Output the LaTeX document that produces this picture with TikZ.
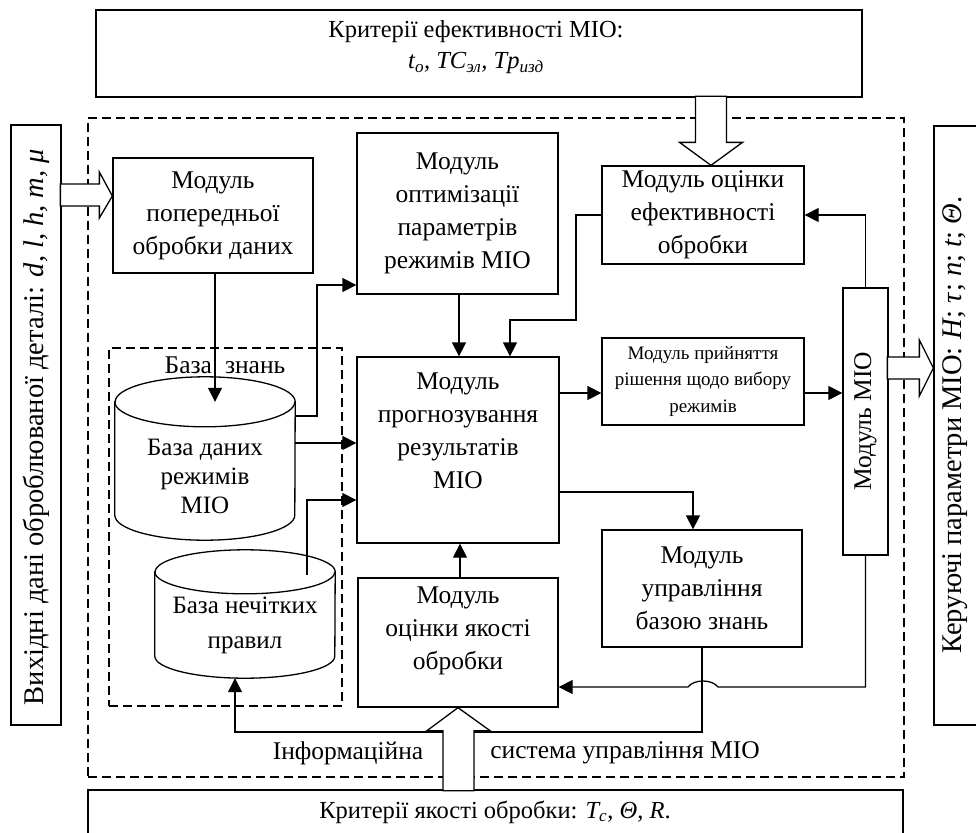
\documentclass[tikz,border=0pt]{standalone}
\usepackage{fontspec}
\setmainfont{Liberation Serif}
\usetikzlibrary{arrows.meta,calc}
\begin{document}
\begin{tikzpicture}[x=1pt,y=-1pt,
  box/.style={draw, line width=1.3pt, fill=white, align=center, inner sep=0pt, font=\fontsize{25.5}{33}\selectfont},
  plain/.style={draw, line width=1.3pt, inner sep=0pt},
  txt/.style={align=center, inner sep=0pt, font=\fontsize{25.5}{33}\selectfont},
  sidetxt/.style={align=center, inner sep=0pt, rotate=90, font=\fontsize{28.5}{33}\selectfont},
  small/.style={font=\fontsize{19}{26.5}\selectfont},
  arr/.style={line width=1.3pt, -{Triangle[length=14pt,width=14pt]}},
  ln/.style={line width=1.3pt},
  dsh/.style={draw, line width=1.3pt, dash pattern=on 9pt off 5pt, inner sep=0pt},
  hollow/.style={draw, line width=1.3pt, fill=white, line join=miter}
]
\useasboundingbox (0,0) rectangle (976,832);

% outer containers
\node[dsh, minimum width=816pt, minimum height=659pt] (ims) at (496,447.5) {};
\node[dsh, minimum width=233pt, minimum height=358pt] (kb) at (225.5,527) {};
\node[txt] (kbl) at (225,365) {База\hspace{13pt}знань};

% outer boxes
\node[plain, minimum width=766pt, minimum height=87pt] (topbox) at (479,53.5) {};
\node[txt, font=\fontsize{24.5}{31}\selectfont] (toptxt) at (476,47.5) {Критерії ефективності МІО:\\ \textit{t\textsubscript{o}, TC\textsubscript{эл}, Tp\textsubscript{изд}}};
\node[plain, minimum width=50pt, minimum height=600pt] (inbox) at (36,425) {};
\node[sidetxt] (intxt) at (36,427) {Вихідні дані оброблюваної деталі: \textit{d, l, h, m, μ}};
\node[plain, minimum width=52pt, minimum height=599pt] (outbox) at (960,425.5) {};
\node[sidetxt] (outtxt) at (955,425) {Керуючі параметри МІО: \textit{H}; \textit{τ}; \textit{n}; \textit{t}; \textit{Θ}.};
\node[plain, minimum width=815pt, minimum height=60pt] (critq) at (495.5,820) {};
\node[txt, font=\fontsize{24.5}{31}\selectfont] (critqtxt) at (495,812) {Критерії якості обробки: \textit{T\textsubscript{c}}, \textit{Θ}, \textit{R}.};

% modules
\node[box, minimum width=200pt, minimum height=115pt] (pre) at (213,215.5) {Модуль\\попередньої\\обробки даних};
\node[box, minimum width=201pt, minimum height=161pt] (opt) at (457.5,213.5) {Модуль\\оптимізації\\параметрів\\режимів МІО};
\node[box, minimum width=202pt, minimum height=98pt] (eff) at (703,215) {Модуль оцінки\\ефективності\\обробки};
\node[box, small, minimum width=202pt, minimum height=87pt] (dec) at (703,381.5) {Модуль прийняття\\рішення щодо вибору\\режимів};
\node[box, minimum width=202pt, minimum height=186pt] (pred) at (458,450) {};
\node[txt] (predtxt) at (458,431) {Модуль\\прогнозування\\результатів\\МІО};
\node[box, minimum width=200pt, minimum height=117pt] (mgmt) at (702,588.5) {Модуль\\управління\\базою знань};
\node[box, minimum width=200pt, minimum height=129pt] (qual) at (458,642.5) {};
\node[txt] (qualtxt) at (458,631) {Модуль\\оцінки якості\\обробки};
\node[box, minimum width=45pt, minimum height=267pt] (mio) at (865.5,421.5) {};
\node[txt, rotate=90] (miotxt) at (865.5,421.5) {Модуль МІО};

% cylinders
\node[inner sep=0pt, minimum width=180pt, minimum height=163pt] (db) at (205,458.5) {};
\draw[ln, fill=white] ([yshift=-25pt]db.north west) -- ([yshift=25pt]db.south west)
  arc[start angle=180, end angle=360, x radius=90pt, y radius=25pt]
  -- ([yshift=-25pt]db.north east)
  arc[start angle=0, end angle=180, x radius=90pt, y radius=25pt] -- cycle;
\draw[ln] ([yshift=-25pt]db.north west) arc[start angle=180, end angle=360, x radius=90pt, y radius=25pt];
\node[txt, font=\fontsize{25}{29}\selectfont] (dbtxt) at (205,476.5) {База даних\\режимів\\МІО};

\node[inner sep=0pt, minimum width=180pt, minimum height=128pt] (rules) at (245,614) {};
\draw[ln, fill=white] ([yshift=-22pt]rules.north west) -- ([yshift=22pt]rules.south west)
  arc[start angle=180, end angle=360, x radius=90pt, y radius=22pt]
  -- ([yshift=-22pt]rules.north east)
  arc[start angle=0, end angle=180, x radius=90pt, y radius=22pt] -- cycle;
\draw[ln] ([yshift=-22pt]rules.north west) arc[start angle=180, end angle=360, x radius=90pt, y radius=22pt];
\node[txt, font=\fontsize{25}{35}\selectfont] (rulestxt) at (245,625.5) {База нечітких\\правил};

% named bend points
\coordinate (b1) at (576,320);
\coordinate (b2) at (317,285);
\coordinate (r1) at (307,575);
\coordinate (b3) at (235,732);
\coordinate (hopR) at (718,687);
\coordinate (hopL) at (688,687);

% connectors
\draw[arr] (pre.south -| 215,0) -- ([xshift=10pt,yshift=-25pt]db.north);
\draw[arr] (db.east |- 0,443) -- (pred.west |- 0,443);
\draw[arr] (db.east |- 0,416) -| (b2) -- (opt.west |- b2);
\draw[arr] (r1) |- (pred.west |- 0,500);
\draw[arr] (opt.south -| 459,0) -- (pred.north -| 459,0);
\draw[arr] (eff.west) -| (b1) -| ([xshift=52pt]pred.north);
\draw[arr] (mio.north) |- (eff.east);
\draw[arr] (pred.east |- 0,393) -- (dec.west |- 0,393);
\draw[arr] (dec.east |- 0,393) -- (mio.west |- 0,393);
\draw[arr] (pred.east |- 0,492) -| ([xshift=-9pt]mgmt.north);
\draw[arr] (qual.north -| 460,0) -- (pred.south -| 460,0);
\draw[arr] (mio.south) |- (hopR) .. controls (712,679) and (694,679) .. (hopL) -- (qual.east |- hopL);
\draw[arr] (mgmt.south) |- (b3) -- (rules.south -| b3);

% hollow arrows
\coordinate (ta) at ([xshift=8pt]eff.north);
\draw[hollow] (ta) -- ++(-31.5,-23) -- ++(16,0) -- ++(0,-46) -- ++(31,0) -- ++(0,46) -- ++(16,0) -- cycle;
\draw[hollow] (qual.south) -- ++(32,23) -- ++(-16,0) -- ++(0,60) -- ++(-31,0) -- ++(0,-60) -- ++(-16,0) -- cycle;
\coordinate (la) at (pre.west |- 0,196);
\draw[hollow] (la) -- ++(-13,-24) -- ++(0,12) -- ++(-39,0) -- ++(0,22) -- ++(39,0) -- ++(0,12) -- cycle;
\coordinate (ra) at (outbox.west |- 0,368);
\draw[hollow] (ra) -- ++(-14,-28) -- ++(0,17) -- ++(-32,0) -- ++(0,22) -- ++(32,0) -- ++(0,17) -- cycle;

% system label
\node[txt] (sys1) at (348,753) {Інформаційна};
\node[txt] (sys2) at (625,753) {система управління МІО};
\end{tikzpicture}
\end{document}
